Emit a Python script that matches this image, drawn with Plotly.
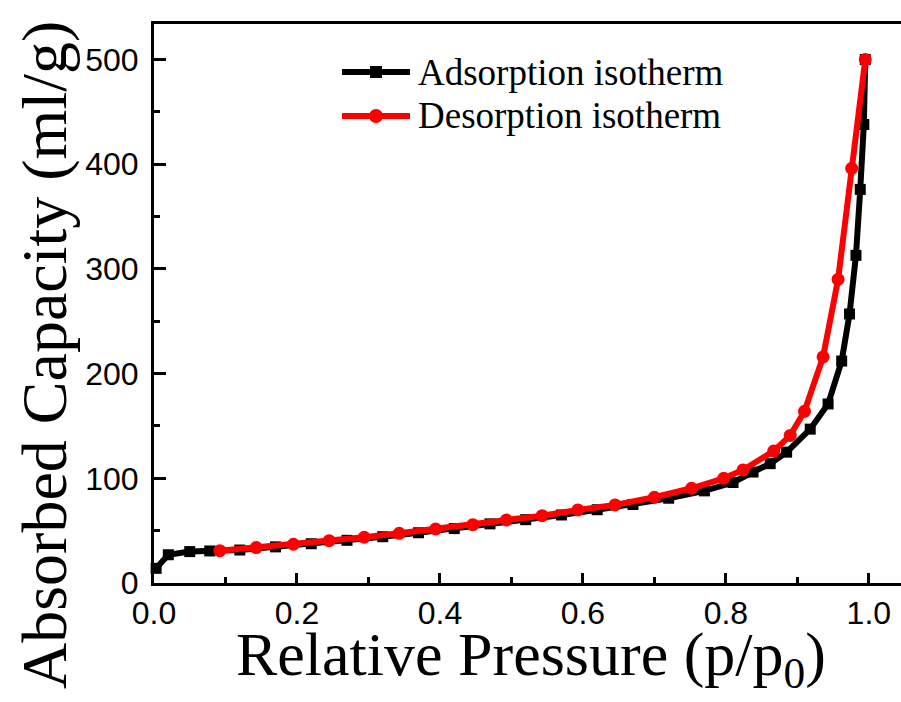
import plotly.graph_objects as go

# Adsorption isotherm (black squares)
ads_x = [0.003, 0.02, 0.05, 0.078, 0.12, 0.17, 0.22, 0.27, 0.32, 0.37, 0.42, 0.47,
         0.52, 0.57, 0.62, 0.67, 0.72, 0.77, 0.81, 0.838, 0.862, 0.885, 0.918,
         0.943, 0.962, 0.973, 0.982, 0.988, 0.993, 0.995]
ads_y = [14, 27, 30, 30.6, 31.5, 34.5, 37.5, 40.8, 44.2, 48, 52, 56.5,
         60.5, 65, 70, 75, 81, 88, 96, 106, 114, 125, 147,
         171, 212, 257, 313, 376, 438, 500]

# Desorption isotherm (red circles)
des_x = [0.092, 0.143, 0.195, 0.245, 0.294, 0.343, 0.394, 0.446, 0.493, 0.543,
         0.593, 0.645, 0.70, 0.752, 0.797, 0.824, 0.867, 0.89, 0.91, 0.936,
         0.957, 0.976, 0.995]
des_y = [30.9, 33.8, 37, 40.4, 43.7, 47.5, 51.6, 55.7, 60.2, 64.3,
         69.8, 74.6, 81.9, 90.5, 100, 108, 126, 141, 164, 216,
         290, 396, 500]

series_names = ["Adsorption isotherm", "Desorption isotherm"]
series_colors = ["black", "#ff0000"]
x_title = "Relative Pressure (p/p<sub>0</sub>)"
y_title = "Absorbed Capacity (ml/g)"

W, H = 901, 702
ML, MR, MT, MB = 154, 0, 24, 119
PW, PH = W - ML - MR, H - MT - MB


def px(xp):
    return (xp - ML) / PW


def py(yp):
    return (H - MB - yp) / PH


fig = go.Figure()
fig.add_trace(go.Scatter(
    x=ads_x, y=ads_y, mode="lines+markers", name=series_names[0],
    line=dict(color=series_colors[0], width=6),
    marker=dict(symbol="square", size=11, color=series_colors[0]),
    cliponaxis=False, showlegend=False,
))
fig.add_trace(go.Scatter(
    x=des_x, y=des_y, mode="lines+markers", name=series_names[1],
    line=dict(color=series_colors[1], width=6),
    marker=dict(symbol="circle", size=13, color=series_colors[1]),
    cliponaxis=False, showlegend=False,
))

# custom legend (longer line samples, as in the reference)
shapes = []
annotations = []
legend_rows = [72, 116]
for i, (name, col) in enumerate(zip(series_names, series_colors)):
    yy = legend_rows[i]
    shapes.append(dict(type="line", xref="paper", yref="paper",
                       x0=px(342), x1=px(410), y0=py(yy), y1=py(yy),
                       line=dict(color=col, width=6)))
    if i == 0:
        shapes.append(dict(type="rect", xref="paper", yref="paper",
                           x0=px(370), x1=px(382), y0=py(yy - 6), y1=py(yy + 6),
                           fillcolor=col, line=dict(width=0)))
    else:
        shapes.append(dict(type="circle", xref="paper", yref="paper",
                           x0=px(369), x1=px(383), y0=py(yy - 7), y1=py(yy + 7),
                           fillcolor=col, line=dict(width=0)))
    annotations.append(dict(text=name, xref="paper", yref="paper",
                            x=px(416), y=py(yy), xanchor="left", yanchor="middle",
                            showarrow=False,
                            font=dict(family="Liberation Serif", size=37, color="black")))

annotations.append(dict(text=x_title, xref="paper", yref="paper", x=0.505, y=py(658),
                        xanchor="center", yanchor="middle", showarrow=False,
                        font=dict(family="Liberation Serif", size=62, color="black")))
annotations.append(dict(text=y_title, xref="paper", yref="paper", x=px(44), y=py(355),
                        xanchor="center", yanchor="middle", showarrow=False, textangle=-90,
                        font=dict(family="Liberation Serif", size=64, color="black")))

fig.update_layout(
    width=W, height=H,
    margin=dict(l=ML, r=MR, t=MT, b=MB),
    plot_bgcolor="white", paper_bgcolor="white",
    showlegend=False,
    shapes=shapes,
    annotations=annotations,
)

fig.update_xaxes(
    range=[0, 1.045], showgrid=False, zeroline=False,
    showline=True, linecolor="black", linewidth=3, mirror=True,
    ticks="inside", ticklen=10, tickwidth=3, tickcolor="black",
    dtick=0.2, tick0=0, tickformat=".1f",
    minor=dict(ticks="inside", ticklen=6, tickwidth=3, dtick=0.1, tickcolor="black", showgrid=False),
    tickfont=dict(family="Liberation Sans", size=32, color="black"),
)
fig.update_yaxes(
    range=[0, 534], showgrid=False, zeroline=False,
    showline=True, linecolor="black", linewidth=3, mirror=False,
    ticks="inside", ticklen=12, tickwidth=3, tickcolor="black",
    dtick=100, tick0=0,
    minor=dict(ticks="inside", ticklen=6, tickwidth=3, dtick=50, tickcolor="black", showgrid=False),
    tickfont=dict(family="Liberation Sans", size=32, color="black"),
    ticklabelstandoff=6,
)

fig.write_html("out.html")
